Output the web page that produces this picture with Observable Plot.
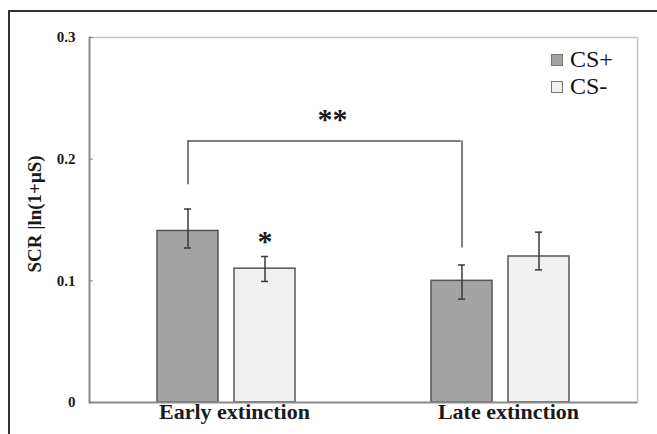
<!DOCTYPE html>
<html><head><meta charset="utf-8">
<script src="https://cdn.jsdelivr.net/npm/d3@7"></script>
<script src="https://cdn.jsdelivr.net/npm/@observablehq/plot@0.6"></script>
<style>
body{margin:0;background:#fff;}
#wrap{position:relative;width:657px;height:434px;overflow:hidden;background:#fff;}
#wrap svg{display:block;}
#border{position:absolute;left:8px;top:10px;right:-5px;bottom:-5px;border-top:2px solid #333;border-left:2px solid #333;pointer-events:none;}
.lg{position:absolute;font-family:"Liberation Serif",serif;font-size:24px;line-height:27px;color:#111;white-space:nowrap;}
.sw{position:absolute;width:10px;height:10px;border:1px solid #777;}
</style></head><body><div id="wrap"><div id="border"></div></div>
<script>
// ---- data ----
const groups = ["Early extinction", "Late extinction"];
const series = ["CS+", "CS-"];
const colors = ["#a3a3a3", "#f0f0f0"];
// order: Early CS+, Early CS-, Late CS+, Late CS-
const means  = [0.141, 0.110, 0.100, 0.120];
const errLow = [0.127, 0.0995, 0.085, 0.109];
const errHigh= [0.159, 0.120, 0.113, 0.140];
const yTicks = [0, 0.1, 0.2, 0.3];
const yLabel = "SCR |ln(1+μS)";
const bracketY = 0.215;
const bracketEnds = [0.179, 0.127]; // lower ends of the bracket legs (Early CS+, Late CS+)
const sigStar = "*";     // Early CS- marker
const sigBracket = "**"; // Early CS+ vs Late CS+

const rows = [];
groups.forEach((g, gi) => series.forEach((s, si) => {
  const k = gi * 2 + si;
  rows.push({group: g, series: s, mean: means[k], lo: errLow[k], hi: errHigh[k]});
}));
const legs = groups.map((g, i) => ({group: g, series: "CS+", y1: bracketY, y2: bracketEnds[i]}));
const starRow = rows.filter(d => d.group === "Early extinction" && d.series === "CS-").map(d => ({...d, label: sigStar}));

// layout
const W = 657, H = 434, mL = 88, mR = 20, mT = 37, mB = 32;
const pInner = 0.205, pOuter = 0.862;
const facetW = (W - mL - mR) / groups.length;
const step = facetW / (series.length - pInner + 2 * pOuter);
const cPlus = step * pOuter + step * (1 - pInner) / 2; // CS+ centre from facet's left edge

const lineCol = "#555";
const plot = Plot.plot({
  width: W, height: H,
  marginLeft: mL, marginRight: mR, marginTop: mT, marginBottom: mB,
  fx: {domain: groups, padding: 0, label: null},
  x: {domain: series, paddingInner: pInner, paddingOuter: pOuter, axis: null},
  y: {domain: [0, 0.3], axis: null},
  color: {domain: series, range: colors},
  style: {fontFamily: "Liberation Serif, serif", fontWeight: "bold", color: "#1a1a1a", background: "transparent"},
  marks: [
    Plot.ruleY([0.3], {stroke: "#c4c4c4", strokeWidth: 1.5}),
    Plot.frame({anchor: "right", facetAnchor: "right", stroke: "#c4c4c4", strokeWidth: 1.5}),
    Plot.barY(rows, {fx: "group", x: "series", y: "mean", fill: "series", stroke: lineCol, strokeWidth: 1.5}),
    Plot.ruleX(rows, {fx: "group", x: "series", y1: "lo", y2: "hi", stroke: "#3a3a3a", strokeWidth: 1.5}),
    Plot.tickY(rows, {fx: "group", x: "series", y: "lo", inset: 27, stroke: "#3a3a3a", strokeWidth: 1.5}),
    Plot.tickY(rows, {fx: "group", x: "series", y: "hi", inset: 27, stroke: "#3a3a3a", strokeWidth: 1.5}),
    Plot.ruleY([0], {stroke: "#8a8a8a", strokeWidth: 2}),
    Plot.frame({anchor: "left", facetAnchor: "left", stroke: "#8a8a8a", strokeWidth: 2}),
    // bracket
    Plot.ruleX(legs, {fx: "group", x: "series", y1: "y1", y2: "y2", stroke: lineCol, strokeWidth: 1.5}),
    Plot.ruleY(legs.slice(0, 1), {fx: "group", y: "y1", insetLeft: cPlus, stroke: lineCol, strokeWidth: 1.5}),
    Plot.ruleY(legs.slice(1), {fx: "group", y: "y1", insetRight: facetW - cPlus, stroke: lineCol, strokeWidth: 1.5}),
    Plot.text([{group: "Early extinction", y: bracketY, label: sigBracket}], {fx: "group", y: "y", text: "label", frameAnchor: "right", dx: -16, dy: -12, lineAnchor: "bottom", fontSize: 30, fill: "#1a1a1a"}),
    Plot.text(starRow, {fx: "group", x: "series", y: "hi", text: "label", dy: -6, lineAnchor: "bottom", fontSize: 30, fill: "#1a1a1a"}),
    // axes
    Plot.axisY(yTicks, {anchor: "left", tickSize: -4, tickPadding: 18, stroke: "#8a8a8a", fontSize: 15,
      tickFormat: d => d === 0 ? "0" : d.toFixed(1), label: null}),
    Plot.text([yLabel], {text: d => d, frameAnchor: "left", facetAnchor: "left", textAnchor: "middle", rotate: -90, dx: -55, dy: -6, fontSize: 19, fill: "#1a1a1a"}),
    Plot.axisFx({anchor: "bottom", tickSize: 0, tickPadding: 1, fontSize: 22, label: null, dx: 8})
  ]
});
const wrap = document.getElementById("wrap");
wrap.insertBefore(plot, wrap.firstChild);

// legend
series.forEach((s, i) => {
  const sw = document.createElement("div");
  sw.className = "sw";
  sw.style.left = "551px"; sw.style.top = (54 + 27 * i) + "px"; sw.style.background = colors[i];
  wrap.appendChild(sw);
  const t = document.createElement("div");
  t.className = "lg"; t.textContent = s;
  t.style.left = "570px"; t.style.top = (46 + 27 * i) + "px";
  wrap.appendChild(t);
});
</script></body></html>
